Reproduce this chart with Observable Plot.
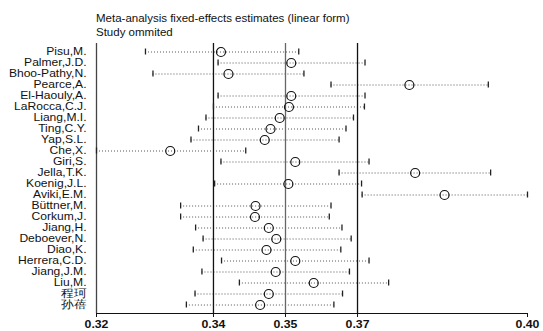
<!DOCTYPE html>
<html>
<head>
<meta charset="utf-8">
<script src="https://cdn.jsdelivr.net/npm/d3@7"></script>
<script src="https://cdn.jsdelivr.net/npm/@observablehq/plot@0.6"></script>
<style>
  body { margin: 0; background: #fff; }
  #wrap { width: 543px; height: 331px; position: relative; font-family: "Liberation Sans", Arial, sans-serif; }
  #head { height: 40px; box-sizing: border-box; padding: 11px 0 0 96px; font-size: 11.5px; line-height: 14px; color: #111; }
</style>
</head>
<body>
<div id="wrap">
  <div id="head"><div>Meta-analysis fixed-effects estimates (linear form)</div><div>Study ommited</div></div>
  <div id="chart"></div>
</div>
<script>
const studies = ["Pisu,M.","Palmer,J.D.","Bhoo-Pathy,N.","Pearce,A.","El-Haouly,A.","LaRocca,C.J.","Liang,M.I.","Ting,C.Y.","Yap,S.L.","Che,X.","Giri,S.","Jella,T.K.","Koenig,J.L.","Aviki,E.M.","Büttner,M.","Corkum,J.","Jiang,H.","Deboever,N.","Diao,K.","Herrera,C.D.","Jiang,J.M.","Liu,M.","程珂","孙蓓"];
const estimates = [0.3433,0.3555,0.3446,0.3760,0.3555,0.3551,0.3535,0.3519,0.3509,0.3345,0.3562,0.3770,0.3550,0.3821,0.3493,0.3492,0.3516,0.3529,0.3512,0.3562,0.3528,0.3594,0.3516,0.3501];
const lowerCI = [0.3302,0.3428,0.3315,0.3624,0.3428,0.3420,0.3407,0.3394,0.3381,0.3217,0.3433,0.3638,0.3422,0.3678,0.3363,0.3363,0.3389,0.3402,0.3385,0.3434,0.3400,0.3465,0.3388,0.3373];
const upperCI = [0.3568,0.3683,0.3577,0.3897,0.3683,0.3682,0.3663,0.3650,0.3638,0.3476,0.3690,0.3901,0.3677,0.3965,0.3624,0.3621,0.3643,0.3659,0.3641,0.3690,0.3656,0.3724,0.3644,0.3629];
// tick positions: overall range min, CI lower, estimate, CI upper, range max
const xTicks = [0.3217, 0.3420, 0.3545, 0.3670, 0.3965];
const xTickLabels = ["0.32", "0.34", "0.35", "0.37", "0.40"];
const refLines = [xTicks[1], xTicks[2], xTicks[3]];
const refColors = ["#111", "#666", "#111"];

const data = studies.map((s, i) => ({study: s, est: estimates[i], lo: lowerCI[i], hi: upperCI[i]}));
const labelMap = new Map(xTicks.map((t, i) => [t, xTickLabels[i]]));

const chart = Plot.plot({
  width: 543,
  height: 291,
  marginTop: 3,
  marginLeft: 96,
  marginRight: 16,
  marginBottom: 18,
  style: {fontFamily: "'Liberation Sans', Arial, sans-serif", color: "#111", background: "#fff"},
  x: {domain: [xTicks[0], xTicks[4]], ticks: xTicks, tickFormat: d => labelMap.get(d), tickSize: 4, tickPadding: 3, line: true, label: null},
  y: {type: "band", domain: studies, range: [5.5, 269.5], padding: 0, tickSize: 0, tickPadding: 10, label: null},
  marks: [
    Plot.ruleY(data, {y: "study", x1: "lo", x2: "hi", stroke: "#555", strokeWidth: 1, strokeDasharray: "1,2"}),
    Plot.ruleX(refLines, {x: d => d, stroke: (d, i) => refColors[i], strokeWidth: 1.3}),
    Plot.ruleX([xTicks[0]], {stroke: "#444", strokeWidth: 1.3}),
    Plot.tickX(data, {x: "lo", y: "study", stroke: "#222", strokeWidth: 1.3, insetTop: 2.5, insetBottom: 2.5}),
    Plot.tickX(data, {x: "hi", y: "study", stroke: "#222", strokeWidth: 1.3, insetTop: 2.5, insetBottom: 2.5}),
    Plot.dot(data, {x: "est", y: "study", r: 4.5, stroke: "#111", strokeWidth: 1.2, fill: "none"})
  ]
});
document.getElementById("chart").appendChild(chart);
// font styling of axes: slightly condensed height, stretched width as in the reference
function stretch(sel, k) {
  sel.each(function () {
    const len = this.getComputedTextLength();
    this.setAttribute("textLength", (len * k).toFixed(2));
    this.setAttribute("lengthAdjust", "spacingAndGlyphs");
  });
}
const xl = d3.select(chart).selectAll('[aria-label="x-axis tick label"] text').attr("font-size", "10.5px").attr("font-weight", "bold");
const yl = d3.select(chart).selectAll('[aria-label="y-axis tick label"] text').attr("font-size", "10.5px");
stretch(xl, 1.17);
stretch(yl, 1.15);
</script>
</body>
</html>
